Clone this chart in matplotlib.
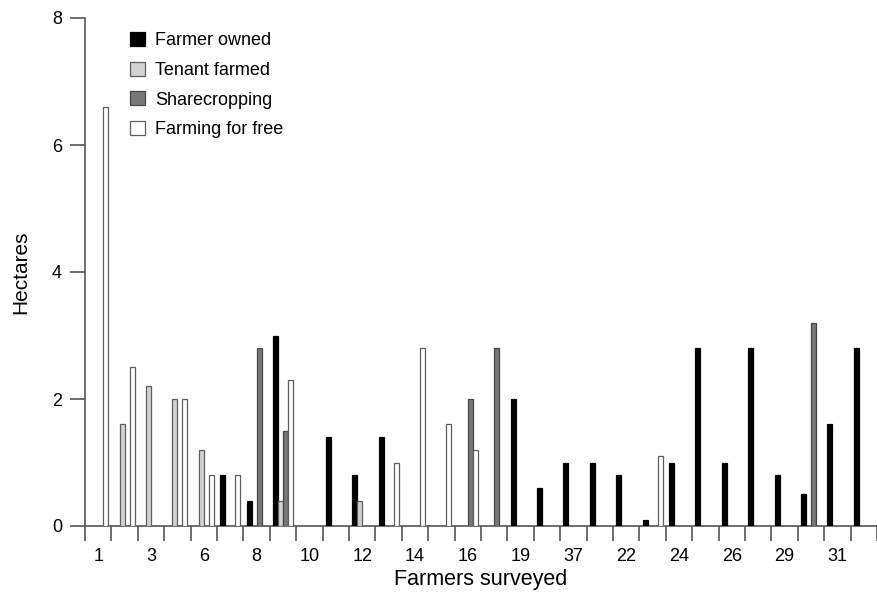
import matplotlib
matplotlib.use("Agg")
import matplotlib.pyplot as plt
import numpy as np
from matplotlib.patches import Patch

plt.rcParams['font.family'] = ['Liberation Sans', 'DejaVu Sans']

# 30 surveyed farmers (groups); tick labels on every other group
tick_labels = ["1", "3", "6", "8", "10", "12", "14", "16", "19", "37",
               "22", "24", "26", "29", "31"]

farmer_owned = [0, 0, 0, 0, 0, 0.8, 0.4, 3.0, 0, 1.4,
                0.8, 1.4, 0, 0, 0, 0, 2.0, 0.6, 1.0, 1.0,
                0.8, 0.1, 1.0, 2.8, 1.0, 2.8, 0.8, 0.5, 1.6, 2.8]
tenant_farmed = [0, 1.6, 2.2, 2.0, 1.2, 0, 0, 0.4, 0, 0,
                 0.4, 0, 0, 0, 0, 0, 0, 0, 0, 0,
                 0, 0, 0, 0, 0, 0, 0, 0, 0, 0]
sharecropping = [0, 0, 0, 0, 0, 0, 2.8, 1.5, 0, 0,
                 0, 0, 0, 0, 2.0, 2.8, 0, 0, 0, 0,
                 0, 0, 0, 0, 0, 0, 0, 3.2, 0, 0]
farming_free = [6.6, 2.5, 0, 2.0, 0.8, 0.8, 0, 2.3, 0, 0,
                0, 1.0, 2.8, 1.6, 1.2, 0, 0, 0, 0, 0,
                0, 1.1, 0, 0, 0, 0, 0, 0, 0, 0]

series = [
    ("Farmer owned", farmer_owned, "#000000", "#000000"),
    ("Tenant farmed", tenant_farmed, "#d2d2d2", "#5e5e5e"),
    ("Sharecropping", sharecropping, "#787878", "#454545"),
    ("Farming for free", farming_free, "#ffffff", "#5e5e5e"),
]

W, H = 877, 592
fig = plt.figure(figsize=(W / 100, H / 100), dpi=100)
ax = fig.add_axes([85 / W, 1 - 526 / H, (W - 85) / W, (526 - 18) / H])

n = len(farmer_owned)
idx = np.arange(n)
step = 0.19
bw = 0.19
for k, (name, vals, fc, ec) in enumerate(series):
    vals = np.array(vals, dtype=float)
    mask = vals > 0
    xs = idx + 0.5 + (k - 1.5) * step
    ax.bar(xs[mask], vals[mask], width=bw, color=fc, edgecolor=ec,
           linewidth=0.9, zorder=3 + (k == 3))

ax.set_xlim(0, 792 / 26.49)
ax.set_ylim(0, 8)

axis_col = "#555555"
for s in ["top", "right"]:
    ax.spines[s].set_visible(False)
for s in ["left", "bottom"]:
    ax.spines[s].set_color(axis_col)
    ax.spines[s].set_linewidth(1.2)

ax.set_yticks([0, 2, 4, 6, 8])
ax.tick_params(axis="y", length=11, width=1.2, color=axis_col, labelsize=13, pad=5.5)

ax.set_xticks(idx[::2] + 0.5)
ax.set_xticklabels(tick_labels)
ax.set_xticks(np.arange(0, n + 1), minor=True)
ax.tick_params(axis="x", which="major", length=0, labelsize=13, pad=15.5)
ax.tick_params(axis="x", which="minor", length=11, width=1.2, color=axis_col)

ax.set_xlabel("Farmers surveyed", fontsize=15.5, labelpad=3)
ax.set_ylabel("Hectares", fontsize=15, labelpad=15.5)

handles = [Patch(facecolor=fc, edgecolor=ec, linewidth=0.9, label=name)
           for name, _, fc, ec in series]
leg = ax.legend(handles=handles, loc="upper left", frameon=False,
                bbox_to_anchor=(130 / W, 1 - 32 / H), bbox_transform=fig.transFigure,
                fontsize=13, handlelength=0.83, handleheight=0.83,
                handletextpad=0.55, labelspacing=0.68, borderpad=0, borderaxespad=0)

fig.savefig("out.png", dpi=100)
